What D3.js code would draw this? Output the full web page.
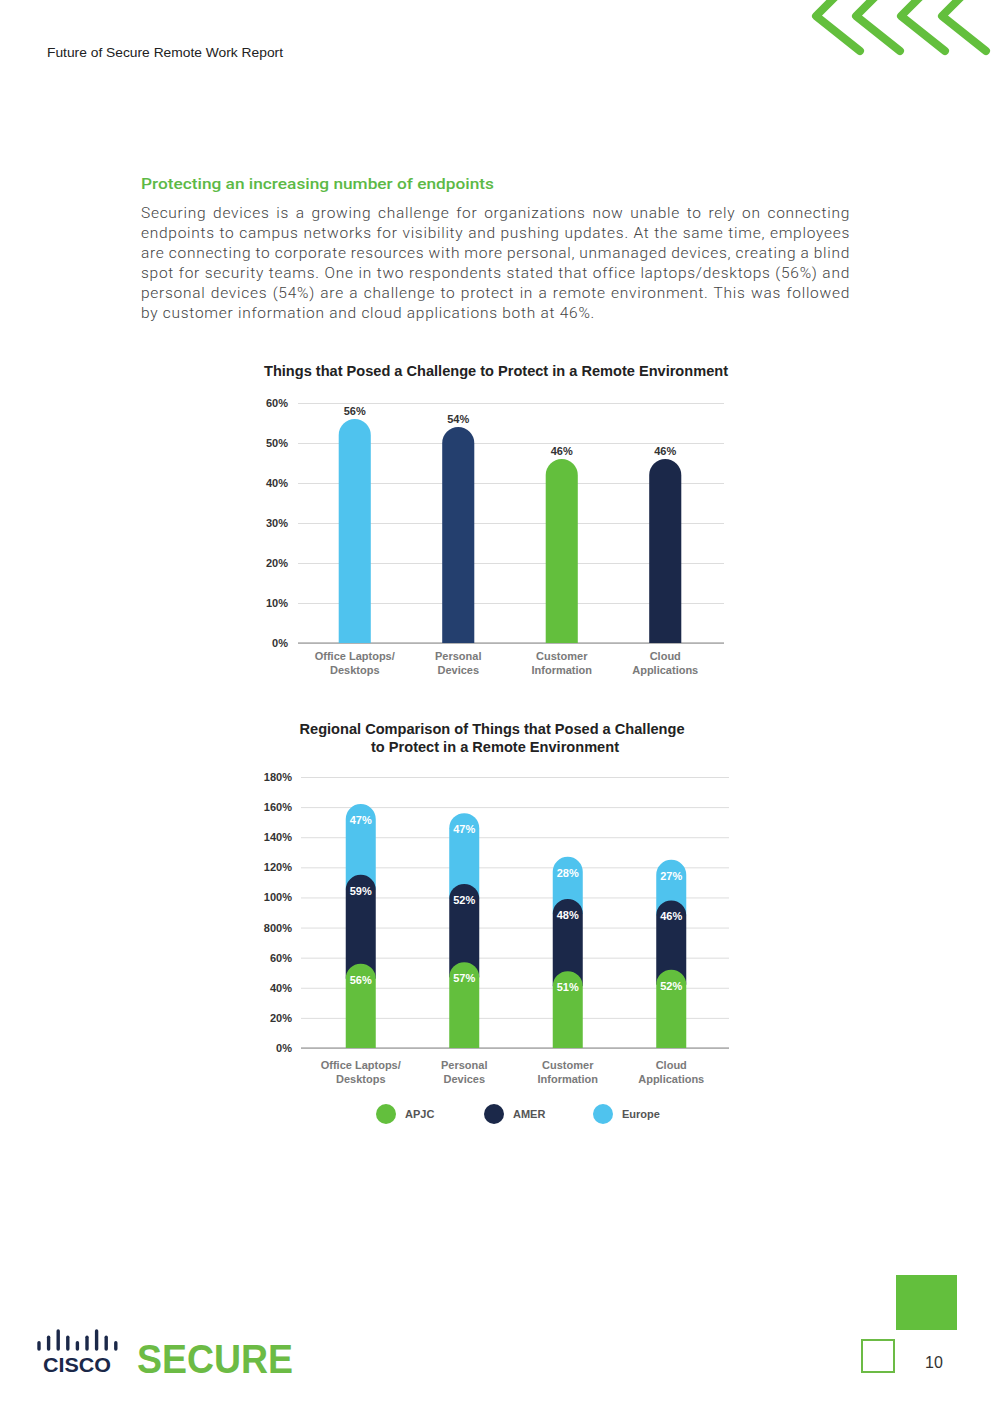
<!DOCTYPE html>
<html>
<head>
<meta charset="utf-8">
<script src="https://cdn.jsdelivr.net/npm/d3@7"></script>
<style>
html,body{margin:0;padding:0;background:#fff;}
svg{display:block;}
</style>
</head>
<body>
<svg id="page" width="992" height="1403"></svg>
<script>
// ---------- DATA ----------
const categories = [["Office Laptops/","Desktops"],["Personal","Devices"],["Customer","Information"],["Cloud","Applications"]];
const totalValues = [56, 54, 46, 46];
const totalColors = ["#4fc3ee", "#243f6e", "#63bf3d", "#1b2849"];
const chart1Ticks = [0,10,20,30,40,50,60];

const regions = ["APJC", "AMER", "Europe"];
const regionColors = ["#63bf3d", "#1b2849", "#4fc3ee"];
const apjcValues = [56, 57, 51, 52];
const amerValues = [59, 52, 48, 46];
const europeValues = [47, 47, 28, 27];
const chart2Ticks = [0,20,40,60,80,100,120,140,160,180];
const chart2TickLabels = ["0%","20%","40%","60%","800%","100%","120%","140%","160%","180%"];

const bodyLines = [
 "Securing devices is a growing challenge for organizations now unable to rely on connecting",
 "endpoints to campus networks for visibility and pushing updates. At the same time, employees",
 "are connecting to corporate resources with more personal, unmanaged devices, creating a blind",
 "spot for security teams. One in two respondents stated that office laptops/desktops (56%) and",
 "personal devices (54%) are a challenge to protect in a remote environment. This was followed",
 "by customer information and cloud applications both at 46%."
];

const svg = d3.select("#page");
const GREEN = "#63bf3d";
const FONT = "'Liberation Sans', Arial, sans-serif";
const BODYFONT = "Roboto, 'Liberation Sans', Arial, sans-serif";

// ---------- header ----------
svg.append("text").attr("x",47).attr("y",57).attr("font-family",FONT).attr("font-size",13)
  .attr("fill","#222").attr("textLength",236).attr("lengthAdjust","spacingAndGlyphs")
  .text("Future of Secure Remote Work Report");

const chevX = [816, 856, 901, 942];
svg.append("g").selectAll("path").data(chevX).join("path")
  .attr("d", x => `M${x+19},-3 L${x},16 L${x+44},51`)
  .attr("fill","none").attr("stroke",GREEN).attr("stroke-width",8)
  .attr("stroke-linecap","round").attr("stroke-linejoin","round");

// ---------- heading + body ----------
svg.append("text").attr("x",141).attr("y",189).attr("font-family",BODYFONT).attr("font-weight",500).attr("font-size",15)
  .attr("fill","#5cb946").attr("textLength",353).attr("lengthAdjust","spacingAndGlyphs")
  .text("Protecting an increasing number of endpoints");

const bodyG = svg.append("g").attr("font-family",BODYFONT).attr("font-weight",300).attr("font-size",15.5).attr("fill","#444");
const bodyTexts = bodyG.selectAll("text").data(bodyLines).join("text")
  .attr("x",141).attr("y",(d,i)=>218+i*20).text(d=>d);
(function(){
  const nodes = bodyTexts.nodes();
  const last = nodes[nodes.length-1];
  const w = last.getComputedTextLength();
  const ls = (454 - w) / (bodyLines[bodyLines.length-1].length);
  bodyTexts.attr("letter-spacing", ls);
  nodes.forEach((n,i)=>{
    if(i === nodes.length-1) return;
    const wi = n.getComputedTextLength();
    const gaps = (bodyLines[i].match(/ /g)||[]).length;
    const ws = (709 - wi) / gaps;
    d3.select(n).attr("word-spacing", ws);
  });
})();

function roundTop(x, w, yTop, yBottom){
  const r = w/2;
  return `M${x},${yBottom} V${yTop+r} A${r},${r} 0 0 1 ${x+w},${yTop+r} V${yBottom} Z`;
}

// ---------- chart 1 ----------
{
  const y = d3.scaleLinear().domain([0,60]).range([643,403]);
  const x = d3.scaleBand().domain(d3.range(4)).range([303,717]).paddingInner(0.69).paddingOuter(0.345);
  const g = svg.append("g");
  g.append("text").attr("x",496).attr("y",376).attr("text-anchor","middle")
    .attr("font-family",FONT).attr("font-weight","bold").attr("font-size",14).attr("fill","#222")
    .attr("textLength",464).attr("lengthAdjust","spacingAndGlyphs")
    .text("Things that Posed a Challenge to Protect in a Remote Environment");
  const yAxis = d3.axisLeft(y).tickValues(chart1Ticks).tickFormat(d=>d+"%").tickSize(-(724-298)).tickPadding(10);
  const ax = g.append("g").attr("transform","translate(298,0)").call(yAxis);
  ax.select(".domain").remove();
  ax.selectAll(".tick line").attr("stroke","#ddd").attr("stroke-width",1);
  ax.selectAll(".tick text").attr("font-family",FONT).attr("font-weight","bold").attr("font-size",11).attr("fill","#333");
  g.append("line").attr("x1",298).attr("x2",724).attr("y1",y(0)).attr("y2",y(0)).attr("stroke","#888").attr("stroke-width",1);
  g.selectAll(".bar").data(totalValues).join("path").attr("class","bar")
    .attr("d",(d,i)=>roundTop(x(i), x.bandwidth(), y(d), y(0)))
    .attr("fill",(d,i)=>totalColors[i]);
  g.selectAll(".val").data(totalValues).join("text").attr("class","val")
    .attr("x",(d,i)=>x(i)+x.bandwidth()/2).attr("y",d=>y(d)-4).attr("text-anchor","middle")
    .attr("font-family",FONT).attr("font-weight","bold").attr("font-size",11).attr("fill","#333")
    .text(d=>d+"%");
  categories.forEach((c,i)=>{
    const t = g.append("text").attr("text-anchor","middle").attr("font-family",FONT).attr("font-weight","bold")
      .attr("font-size",11).attr("fill","#7a7a7a");
    c.forEach((line,j)=>t.append("tspan").attr("x",x(i)+x.bandwidth()/2).attr("y",660+j*14).text(line));
  });
}

// ---------- chart 2 ----------
{
  const y = d3.scaleLinear().domain([0,180]).range([1048,777]);
  const x = d3.scaleBand().domain(d3.range(4)).range([309,723]).paddingInner(0.71).paddingOuter(0.355);
  const g = svg.append("g");
  const t = g.append("text").attr("text-anchor","middle").attr("font-family",FONT).attr("font-weight","bold")
    .attr("font-size",14).attr("fill","#222");
  t.append("tspan").attr("x",492).attr("y",734).attr("textLength",385).attr("lengthAdjust","spacingAndGlyphs")
    .text("Regional Comparison of Things that Posed a Challenge");
  t.append("tspan").attr("x",495).attr("y",752).attr("textLength",248).attr("lengthAdjust","spacingAndGlyphs")
    .text("to Protect in a Remote Environment");
  const yAxis = d3.axisLeft(y).tickValues(chart2Ticks).tickFormat((d,i)=>chart2TickLabels[i]).tickSize(-(729-301)).tickPadding(9);
  const ax = g.append("g").attr("transform","translate(301,0)").call(yAxis);
  ax.select(".domain").remove();
  ax.selectAll(".tick line").attr("stroke","#ddd").attr("stroke-width",1);
  ax.selectAll(".tick text").attr("font-family",FONT).attr("font-weight","bold").attr("font-size",11).attr("fill","#333");
  g.append("line").attr("x1",301).attr("x2",729).attr("y1",y(0)).attr("y2",y(0)).attr("stroke","#888").attr("stroke-width",1);

  const rows = d3.range(4).map(i=>({APJC:apjcValues[i], AMER:amerValues[i], Europe:europeValues[i], i}));
  const stack = d3.stack().keys(regions)(rows);
  const layers = stack.slice().reverse();
  layers.forEach(layer=>{
    const k = regions.indexOf(layer.key);
    g.append("g").selectAll("path").data(layer).join("path")
      .attr("d",(d,i)=>roundTop(x(i), x.bandwidth(), y(d[1]), y(d[0]) + (k>0 ? 15 : 0)))
      .attr("fill",regionColors[k]);
  });
  stack.forEach(layer=>{
    g.append("g").selectAll("text").data(layer).join("text")
      .attr("x",(d,i)=>x(i)+x.bandwidth()/2).attr("y",d=>y(d[1])+20).attr("text-anchor","middle")
      .attr("font-family",FONT).attr("font-weight","bold").attr("font-size",11).attr("fill","#fff")
      .text(d=>(d[1]-d[0])+"%");
  });
  categories.forEach((c,i)=>{
    const tt = g.append("text").attr("text-anchor","middle").attr("font-family",FONT).attr("font-weight","bold")
      .attr("font-size",11).attr("fill","#7a7a7a");
    c.forEach((line,j)=>tt.append("tspan").attr("x",x(i)+x.bandwidth()/2).attr("y",1069+j*14).text(line));
  });
  const legX = [386, 494, 603];
  const lg = g.append("g").selectAll("g").data(regions).join("g")
    .attr("transform",(d,i)=>`translate(${legX[i]},1114)`);
  lg.append("circle").attr("r",10).attr("fill",(d,i)=>regionColors[i]);
  lg.append("text").attr("x",19).attr("y",4).attr("font-family",FONT).attr("font-weight","bold")
    .attr("font-size",11).attr("fill","#555").text(d=>d);
}

// ---------- footer ----------
const ciscoBars = [0.35, 0.65, 1, 0.65, 0.35, 0.65, 1, 0.65, 0.35];
svg.append("g").selectAll("line").data(ciscoBars).join("line")
  .attr("x1",(d,i)=>39+i*9.6).attr("x2",(d,i)=>39+i*9.6)
  .attr("y1",1349).attr("y2",d=>1349-d*18)
  .attr("stroke","#1b2849").attr("stroke-width",3.4).attr("stroke-linecap","round");
svg.append("text").attr("x",43).attr("y",1372).attr("font-family",FONT).attr("font-weight","bold")
  .attr("font-size",20).attr("fill","#1b2849").attr("textLength",68).attr("lengthAdjust","spacingAndGlyphs")
  .text("CISCO");
svg.append("text").attr("x",137).attr("y",1373).attr("font-family",FONT).attr("font-weight","bold")
  .attr("font-size",41).attr("fill","#6cbb45").attr("textLength",156).attr("lengthAdjust","spacingAndGlyphs")
  .text("SECURE");
svg.append("rect").attr("x",896).attr("y",1275).attr("width",61).attr("height",55).attr("fill",GREEN);
svg.append("rect").attr("x",862).attr("y",1340).attr("width",32).attr("height",32).attr("fill","none")
  .attr("stroke","#6cbb45").attr("stroke-width",2);
svg.append("text").attr("x",925).attr("y",1368).attr("font-family",FONT).attr("font-size",16).attr("fill","#333").text("10");
</script>
</body>
</html>
